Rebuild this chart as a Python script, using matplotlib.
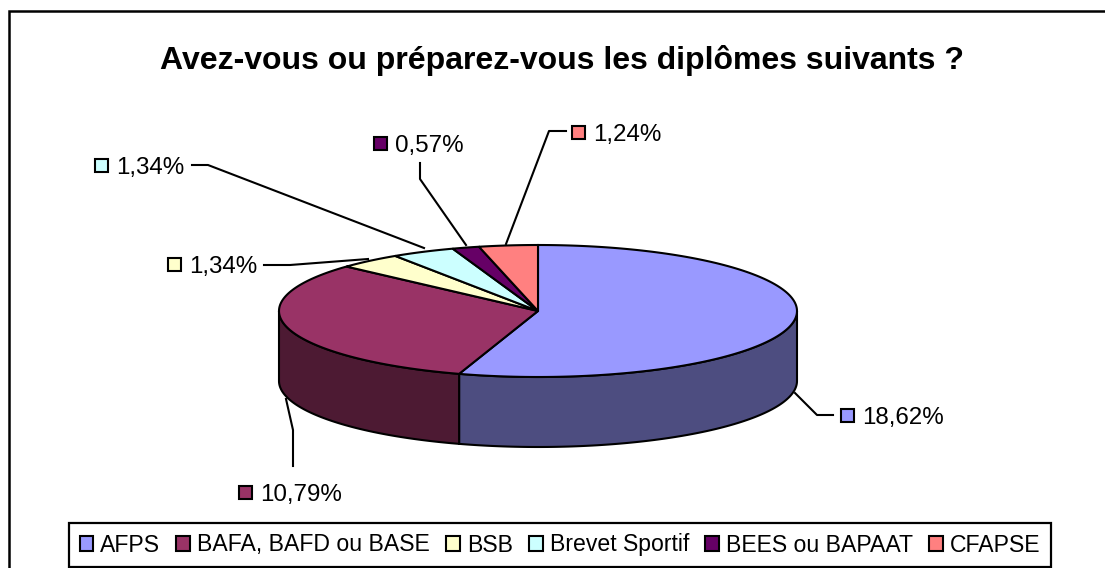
import numpy as np
import matplotlib
matplotlib.use('Agg')
import matplotlib.pyplot as plt
from matplotlib.patches import Polygon, Rectangle

plt.rcParams['font.family'] = ['Liberation Sans', 'DejaVu Sans']

title = 'Avez-vous ou préparez-vous les diplômes suivants ?'
categories = ['AFPS', 'BAFA, BAFD ou BASE', 'BSB', 'Brevet Sportif', 'BEES ou BAPAAT', 'CFAPSE']
values = [18.62, 10.79, 1.34, 1.34, 0.57, 1.24]
colors = ['#9999FF', '#993366', '#FFFFCC', '#CCFFFF', '#660066', '#FF8080']
side_colors = ['#4D4D80', '#4D1A33', '#808066', '#668080', '#330033', '#804040']

# pie geometry, in pixels
cx, cy = 538, 311
rx, ry = 259, 66
depth = 70

# where the value labels go: square x, square y, leader line
label_boxes = [(847, 415), (245, 492), (174, 264), (101, 165), (380, 143), (578, 132)]
leaders = [
    [(795, 393), (817, 415), (833, 415)],
    [(286, 399), (293, 430), (293, 466)],
    [(264, 265), (290, 265), (368, 259)],
    [(192, 165), (208, 165), (424, 248)],
    [(420, 163), (420, 179), (466, 245)],
    [(566, 131), (549, 131), (506, 244)],
]


def ell(a):
    # a = degrees clockwise from the top
    a = np.radians(a)
    return cx + rx * np.sin(a), cy - ry * np.cos(a)


fig = plt.figure(figsize=(11.05, 5.68), dpi=100)
ax = fig.add_axes([0, 0, 1, 1])
ax.set_xlim(0, 1105)
ax.set_ylim(568, 0)
ax.axis('off')

# chart border is cut off by the image on the right and at the bottom
ax.add_patch(Rectangle((9, 11), 1200, 570, fc='white', ec='black', lw=1.8, zorder=0))
ax.text(562, 60, title, ha='center', va='center', fontsize=23, fontweight='bold')

bounds = np.concatenate([[0], np.cumsum(values)]) / np.sum(values) * 360

# rim first, only the part facing us
for i in range(len(values)):
    a0, a1 = max(bounds[i], 90), min(bounds[i + 1], 270)
    if a1 <= a0:
        continue
    x, y = ell(np.linspace(a0, a1, 120))
    px = np.concatenate([x, x[::-1]])
    py = np.concatenate([y, y[::-1] + depth])
    ax.add_patch(Polygon(np.column_stack([px, py]), fc=side_colors[i], ec='black', lw=1.5, zorder=2))

# top of the pie
for i in range(len(values)):
    x, y = ell(np.linspace(bounds[i], bounds[i + 1], 160))
    px = np.concatenate([[cx], x])
    py = np.concatenate([[cy], y])
    ax.add_patch(Polygon(np.column_stack([px, py]), fc=colors[i], ec='black', lw=1.5, zorder=3))

# value labels
for i in range(len(values)):
    sx, sy = label_boxes[i]
    ax.add_patch(Rectangle((sx - 6.5, sy - 6.5), 13, 13, fc=colors[i], ec='black', lw=1.5, zorder=4))
    ax.text(sx + 15, sy + 3, f'{values[i]:.2f}'.replace('.', ',') + '%', ha='left', va='center', fontsize=17.4)
    lx, ly = zip(*leaders[i])
    ax.plot(lx, ly, color='black', lw=1.5, zorder=4)

handles = [Rectangle((0, 0), 1, 1, fc=c, ec='black', lw=1.5) for c in colors]
leg = ax.legend(handles, categories, ncol=6, loc='center', bbox_to_anchor=(560 / 1105, 1 - 545 / 568),
                fontsize=16.6, frameon=True, fancybox=False, edgecolor='black', framealpha=1,
                handlelength=0.6, handleheight=0.6, handletextpad=0.3, columnspacing=0.7,
                borderpad=0.47, borderaxespad=0)
leg.get_frame().set_linewidth(1.6)

fig.savefig('out.png', dpi=100)
